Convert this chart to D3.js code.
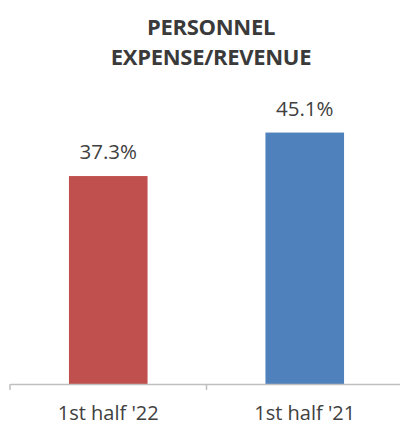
<!DOCTYPE html>
<html>
<head>
<meta charset="utf-8">
<script src="https://cdn.jsdelivr.net/npm/d3@7"></script>
<style>
body { margin: 0; background: #fff; }
svg { display: block; font-family: "Open Sans", "Liberation Sans", sans-serif; }
</style>
</head>
<body>
<svg id="chart" width="400" height="426"></svg>
<script>
// data
const CATEGORIES = ["1st half '22", "1st half '21"];
const VALUES = [37.3, 45.1];
const COLORS = ["#C0504D", "#4F81BD"];
const TITLE = ["PERSONNEL", "EXPENSE/REVENUE"];

let svg = d3.select("#chart");

// scales
let x = d3.scaleBand().domain(CATEGORIES).range([10, 403]).padding(0);
let y = d3.scaleLinear().domain([0, 50]).range([384, 105.25]);
let barW = x.bandwidth() * 0.4;

// title
svg.append("text")
	.attr("x", 211)
	.attr("y", 35)
	.attr("text-anchor", "middle")
	.attr("fill", "#3a3a3a")
	.style("font-size", "22px")
	.style("font-weight", "bold")
	.style("letter-spacing", "-0.3px")
	.selectAll("tspan")
	.data(TITLE)
	.enter()
	.append("tspan")
	.attr("x", 211)
	.attr("dy", (d, i) => i ? 30 : 0)
	.text(d => d);

// bars
svg.selectAll(".bar")
	.data(VALUES)
	.enter()
	.append("rect")
	.attr("class", "bar")
	.attr("x", (d, i) => x(CATEGORIES[i]) + (x.bandwidth() - barW) / 2)
	.attr("y", d => y(d))
	.attr("width", barW)
	.attr("height", d => y(0) - y(d))
	.attr("fill", (d, i) => COLORS[i]);

// value labels
svg.selectAll(".val")
	.data(VALUES)
	.enter()
	.append("text")
	.attr("class", "val")
	.attr("x", (d, i) => x(CATEGORIES[i]) + x.bandwidth() / 2)
	.attr("y", d => y(d) - 17)
	.attr("text-anchor", "middle")
	.attr("fill", "#404040")
	.style("font-size", "20.5px")
	.text(d => d.toFixed(1) + "%");

// x axis
let axis = svg.append("g")
	.attr("transform", `translate(0,${y(0)})`)
	.call(d3.axisBottom(x).tickSize(0).tickPadding(0));

axis.select(".domain").attr("stroke", "#bfbfbf").attr("stroke-width", 1.5);
axis.selectAll("text")
	.attr("y", 36)
	.attr("dy", null)
	.attr("fill", "#404040")
	.style("font-size", "20px")
	.style("font-family", "'Open Sans', sans-serif");

// category boundary ticks
let edges = CATEGORIES.map(c => x(c)).concat([x.range()[1]]);
axis.selectAll(".edge")
	.data(edges)
	.enter()
	.append("line")
	.attr("class", "edge")
	.attr("x1", d => d)
	.attr("x2", d => d)
	.attr("y1", 0)
	.attr("y2", 6)
	.attr("stroke", "#bfbfbf")
	.attr("stroke-width", 1.5);
</script>
</body>
</html>
